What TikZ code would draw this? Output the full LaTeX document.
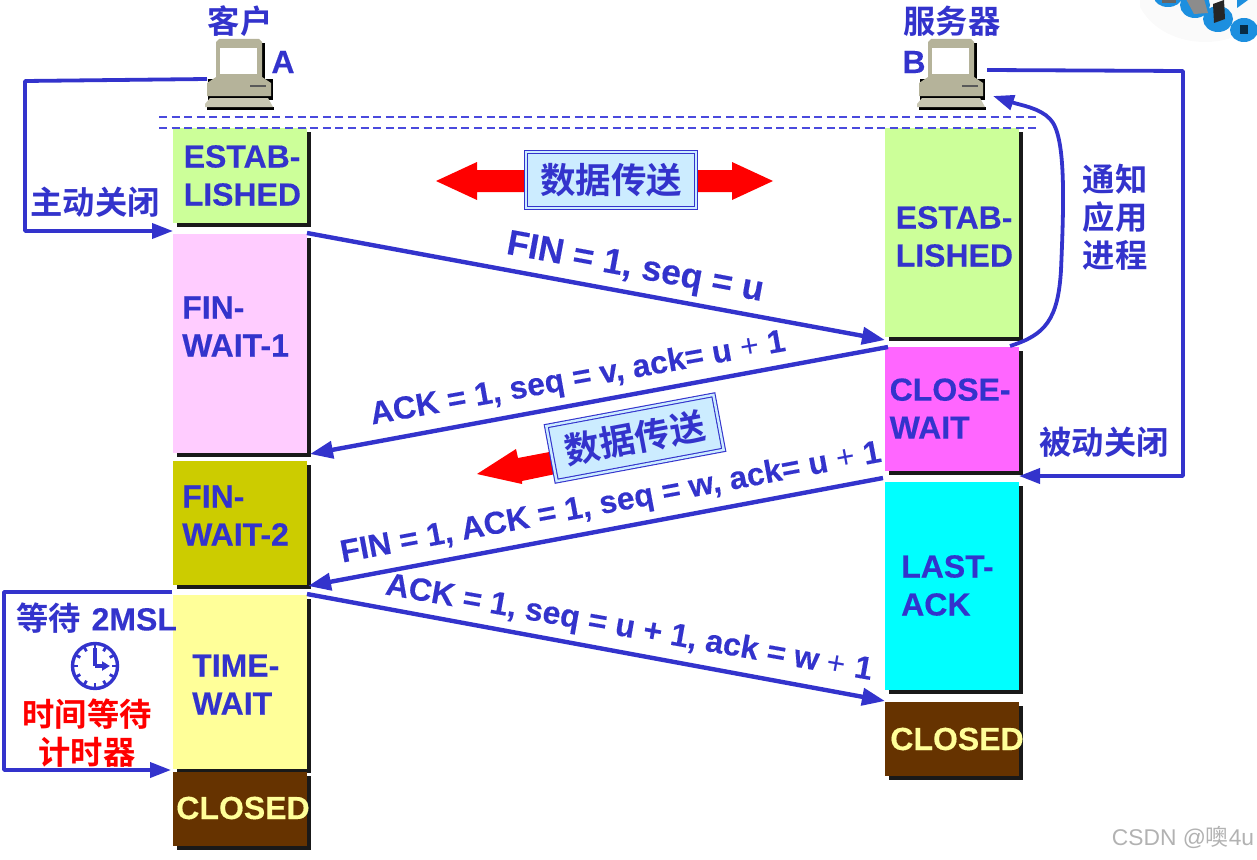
\documentclass[tikz,border=0pt]{standalone}
\usepackage{fontspec}
\setmainfont{Liberation Sans}[BoldFont={Liberation Sans Bold},BoldFeatures={FakeBold=0.25}]
\newfontfamily\cjkb{Noto Sans CJK SC Bold}
\newfontfamily\cjkr{Noto Sans CJK SC}
\usetikzlibrary{arrows.meta,shadows}
\definecolor{tb}{HTML}{3333CC}
\definecolor{dashb}{HTML}{4A4ADD}
\definecolor{cgreen}{HTML}{CCFF99}
\definecolor{cpink}{HTML}{FFCCFF}
\definecolor{colive}{HTML}{CCCC00}
\definecolor{cyell}{HTML}{FFFF99}
\definecolor{cbrown}{HTML}{663300}
\definecolor{cmag}{HTML}{FF66FF}
\definecolor{ccyan}{HTML}{00FFFF}
\definecolor{pale}{HTML}{CCECFF}
\definecolor{cbody}{HTML}{B5B39A}
\definecolor{cfoot}{HTML}{C8C6B2}
\definecolor{disc}{HTML}{1C8FDF}
\tikzset{
  px/.style={x=1pt,y=-1pt},
  statebox/.style={anchor=north west,inner sep=0pt,outer sep=0pt,fill=#1,
    general shadow={shadow xshift=3.5pt,shadow yshift=-4pt,fill=black!90}},
  statetxt/.style={anchor=west,align=left,inner sep=0pt,text=tb,font=\fontsize{32}{38}\selectfont\bfseries},
  closedtxt/.style={anchor=center,inner sep=0pt,text=cyell,font=\fontsize{32}{38}\selectfont\bfseries},
  cjklab/.style={inner sep=0pt,text=tb,align=center,font=\fontsize{32.3}{38}\selectfont\cjkb},
  redlab/.style={inner sep=0pt,text=red,align=center,font=\fontsize{32.3}{38.5}\selectfont\cjkb},
  hostlab/.style={inner sep=0pt,text=tb,font=\fontsize{32}{38}\selectfont\bfseries},
  msg/.style={inner sep=0pt,text=tb,font=\fontsize{#1}{36}\selectfont\bfseries},
  flow/.style={draw=tb,line width=4.4pt,line join=round,-{Triangle[length=23pt,width=17pt]}},
  flowlight/.style={draw=tb,line width=3.8pt,line join=round,-{Triangle[length=21pt,width=15pt]}},
  dashrule/.style={draw=dashb,line width=1.6pt,dash pattern=on 8pt off 4.6pt},
  databox/.style={draw=tb,double=pale,double distance=2.4pt,line width=1.1pt,fill=pale,
    minimum width=170pt,minimum height=56pt,inner sep=0pt,text=tb,font=\fontsize{35.5}{38}\selectfont\cjkb},
  redarrow/.style={fill=red,draw=none},
  computer/.pic={
    \fill[black] (-20,-28) rectangle (27,10);
    \fill[black] (-30,8) rectangle (35,29);
    \fill[black] (-31,36) rectangle (36,39);
    \fill[cbody] (-22,-29) -- (-19,-32) -- (21,-32) -- (24,-29) -- (24,9) -- (-22,9) -- cycle;
    \fill[white] (-18,-23) rectangle (19,3);
    \fill[cbody] (-22,6) -- (24,6) -- (33,12) -- (33,25) -- (-31,25) -- (-31,12) -- cycle;
    \fill[cfoot] (-28,27) -- (30,27) -- (35,36) -- (-33,36) -- (-33,33) -- cycle;
    \fill[black!65] (12,13.5) rectangle (28,16);
  },
}
\begin{document}
\begin{tikzpicture}[px]
\useasboundingbox (0,0) rectangle (1257,859);
% decorative corner
\begin{scope}
\clip (1140,0) rectangle (1257,50);
\fill[black!2] (1205,-14) ellipse (70 and 56);
\fill[disc] (1168,-3) ellipse (14 and 10);
\fill[disc] (1195,5) ellipse (15 and 13);
\fill[disc] (1218,19) ellipse (15 and 13);
\fill[disc] (1244,30) ellipse (14 and 12);
\fill[black!60] (1162,0) rectangle (1176,3);
\fill[black!45] (1186,-1) -- (1204,-1) -- (1208,13) -- (1194,14) -- cycle;
\fill[black!85] (1213,4) -- (1224,0) -- (1225,19) -- (1214,23) -- cycle;
\fill[black!70!disc] (1240,25) rectangle (1248,34);
\fill[disc] (1237,0) -- (1248,0) -- (1237,8) -- cycle;
\end{scope}
% host labels and computers
\node[cjklab] (clientlab) at (240,21) {客户};
\node[cjklab] (serverlab) at (952,21) {服务器};
\pic at (238,71) {computer};
\pic at (950,71) {computer};
\node[hostlab] (Alab) at (283,62) {A};
\node[hostlab] (Blab) at (914,62) {B};
\coordinate (pcA) at (207,79);
\coordinate (pcB) at (987,70);
\coordinate (pcBin) at (993,96);
% dashed rules
\coordinate (d1l) at (159,117); \coordinate (d1r) at (1038,117);
\coordinate (d2l) at (159,128); \coordinate (d2r) at (1038,128);
% left column
\node[statebox=cgreen,minimum width=134pt,minimum height=95pt] (e1) at (173,128) {};
\node[statebox=cpink,minimum width=134pt,minimum height=219pt] (f1) at (173,234) {};
\node[statebox=colive,minimum width=134pt,minimum height=124pt] (f2) at (173,461) {};
\node[statebox=cyell,minimum width=134pt,minimum height=174pt] (tw) at (173,595) {};
\node[statebox=cbrown,minimum width=134pt,minimum height=74pt] (c1) at (173,772) {};
% right column
\node[statebox=cgreen,minimum width=134pt,minimum height=209pt] (e2) at (885,128) {};
\node[statebox=cmag,minimum width=134pt,minimum height=124pt] (cw) at (885,347) {};
\node[statebox=ccyan,minimum width=134pt,minimum height=208pt] (la) at (885,482) {};
\node[statebox=cbrown,minimum width=134pt,minimum height=74pt] (c2) at (885,702) {};
\draw[dashrule] (d1l) -- (d1r);
\draw[dashrule] (d2l) -- (d2r);
% state text
\node[statetxt] (te1) at (183.5,175.5) {ESTAB-\\LISHED};
\node[statetxt] (tf1) at (182,326.5) {FIN-\\WAIT-1};
\node[statetxt] (tf2) at (182,515.5) {FIN-\\WAIT-2};
\node[statetxt] (ttw) at (192,684.5) {TIME-\\WAIT};
\node[closedtxt] (tc1) at (243,808) {CLOSED};
\node[statetxt] (te2) at (895.5,236.5) {ESTAB-\\LISHED};
\node[statetxt] (tcw) at (889.5,408.5) {CLOSE-\\WAIT};
\node[statetxt] (tla) at (901,585.5) {LAST-\\ACK};
\node[closedtxt] (tc2) at (957,739) {CLOSED};
% side labels
\node[cjklab] (active) at (95,202) {主动关闭};
\node[cjklab] (notify) at (1115,217) {通知\\应用\\进程};
\node[cjklab] (passive) at (1104,442) {被动关闭};
\node[cjklab,anchor=west] (wait) at (16,618) {等待\,\,\fontsize{32}{38}\selectfont\bfseries\rmfamily 2MSL};
\node[redlab] (timer) at (87,733) {时间等待\\计时器};
% clock
\coordinate (clk) at (95,666);
\draw[tb,line width=3.4pt] (clk) circle (22.5);
\foreach \a in {0,30,...,330}{\draw[tb,line width=2.8pt] (clk) ++(\a:17) -- ++(\a:5);}
\draw[tb,line width=3.6pt] (clk) -- ++(0,-18);
\draw[tb,line width=3.6pt,-{Triangle[length=8pt,width=9pt]}] (clk) -- ++(15,0);
% connectors
\coordinate (a1) at (25,81); \coordinate (a2) at (25,231); \coordinate (a3) at (173,231);
\draw[flowlight] (pcA) -- (a1) -- (a2) -- (a3);
\coordinate (b1) at (1183,71); \coordinate (b2) at (1183,476); \coordinate (b3) at (1019,476);
\draw[flowlight] (pcB) -- (b1) -- (b2) -- (b3);
\coordinate (w0) at (172,592); \coordinate (w1) at (4,592); \coordinate (w2) at (4,770); \coordinate (w3) at (171,770);
\draw[flowlight] (w0) -- (w1) -- (w2) -- (w3);
\coordinate (n0) at (1010,346);
\draw[flowlight] (n0) .. controls (1045,335) and (1058,320) .. (1061,270) .. controls (1064,200) and (1066,135) .. (1050,119) .. controls (1040,108) and (1020,105) .. (pcBin);
\coordinate (m1a) at (307,233); \coordinate (m1b) at (885,340);
\coordinate (m2a) at (888,347); \coordinate (m2b) at (310,454);
\coordinate (m3a) at (883,478); \coordinate (m3b) at (308,586);
\coordinate (m4a) at (307,594); \coordinate (m4b) at (885,701);
\draw[flow] (m1a) -- (m1b);
\draw[flow] (m2a) -- (m2b);
\draw[flow] (m3a) -- (m3b);
\draw[flow] (m4a) -- (m4b);
% message labels
\node[msg=35.5,rotate=-10.5] (l1) at (635,269) {FIN = 1, seq = u};
\node[msg=32,rotate=10.1] (l2) at (578,379.5) {ACK = 1, seq = v, ack= u {\mdseries +} 1};
\node[msg=31.8,rotate=10.6] (l3) at (611,504) {FIN = 1, ACK = 1, seq = w, ack= u {\mdseries +} 1};
\node[msg=32,rotate=-10] (l4) at (629,629) {ACK = 1, seq = u + 1, ack = w {\mdseries +} 1};
% data transfer, top
\fill[redarrow] (436,181) -- (477,162) -- (477,170) -- (530,170) -- (530,192) -- (477,192) -- (477,200) -- cycle;
\fill[redarrow] (773,181) -- (732,162) -- (732,170) -- (692,170) -- (692,192) -- (732,192) -- (732,200) -- cycle;
\node[databox] (dt1) at (611,180) {数据传送};
% data transfer, rotated
\fill[redarrow] (477,474) -- (516,449) -- (518,458) -- (560,450) -- (565,472) -- (522,481) -- (522,484) -- cycle;
\node[databox,rotate=10.6] (dt2) at (635,438) {数据传送};
% watermark
\node[inner sep=0pt,text=black!30,font=\fontsize{22.8}{24}\selectfont] (wm) at (1183,837) {CSDN @{\cjkr 噢}4u};
\end{tikzpicture}
\end{document}
